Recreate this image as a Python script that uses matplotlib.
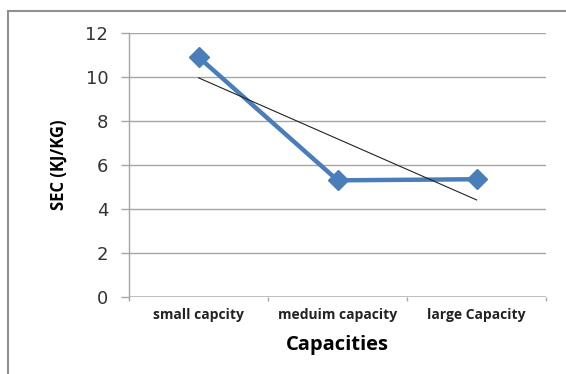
import numpy as np
import matplotlib
matplotlib.use("Agg")
import matplotlib.pyplot as plt
from matplotlib.lines import Line2D

categories = ["small capcity", "meduim capacity", "large Capacity"]
sec_values = [10.9, 5.3, 5.35]
y_ticks = [0, 2, 4, 6, 8, 10, 12]

plt.rcParams["font.family"] = ["Open Sans", "DejaVu Sans"]

fig = plt.figure(figsize=(5.66, 3.74), dpi=100)
ax = fig.add_axes([0.228, 0.206, 0.737, 0.706])

x = np.arange(1, len(categories) + 1)

# horizontal gridlines
for v in y_ticks[1:]:
    ax.axhline(v, color="#a6a6a6", lw=1.0, zorder=1)
ax.axhline(0, color="#c0c0c0", lw=2.2, zorder=1)

# data series
ax.plot(x, sec_values, color="#4a7ebb", lw=3.2, marker="D", ms=10,
        markerfacecolor="#4a7ebb", markeredgecolor="#4a7ebb", zorder=3)

# linear trend line
coef = np.polyfit(x, sec_values, 1)
ax.plot(x, np.polyval(coef, x), color="#222222", lw=0.8, zorder=4)

ax.set_xlim(0.5, len(categories) + 0.5)
ax.set_ylim(0, 12)
ax.set_yticks(y_ticks)
ax.set_yticklabels([str(v) for v in y_ticks], fontsize=13, color="#333333",
                   family="DejaVu Sans")
ax.tick_params(axis="y", length=6, width=1.0, color="#a6a6a6", pad=9)

ax.set_xticks(x)
ax.set_xticklabels(categories, fontsize=10, fontweight="bold", color="#222222")
ax.set_xticks(np.arange(0.5, len(categories) + 1, 1.0), minor=True)
ax.tick_params(axis="x", which="major", length=0, pad=8)
ax.tick_params(axis="x", which="minor", length=3, width=1.0, color="#a6a6a6")

for s in ["top", "right", "bottom"]:
    ax.spines[s].set_visible(False)
ax.spines["left"].set_color("#a6a6a6")
ax.spines["left"].set_linewidth(1.0)

ax.set_xlabel("Capacities", fontsize=14.5, fontweight="bold", labelpad=9)
ax.set_ylabel("SEC (KJ/KG)", fontsize=12, fontweight="bold", labelpad=13)

# outer chart border
fig.add_artist(Line2D([8 / 566, 1.0], [1 - 11 / 374, 1 - 11 / 374],
                      transform=fig.transFigure, color="#909090", lw=1.5))
fig.add_artist(Line2D([8 / 566, 8 / 566], [1 - 11 / 374, 0.0],
                      transform=fig.transFigure, color="#909090", lw=1.5))

fig.savefig("out.png", dpi=100)
